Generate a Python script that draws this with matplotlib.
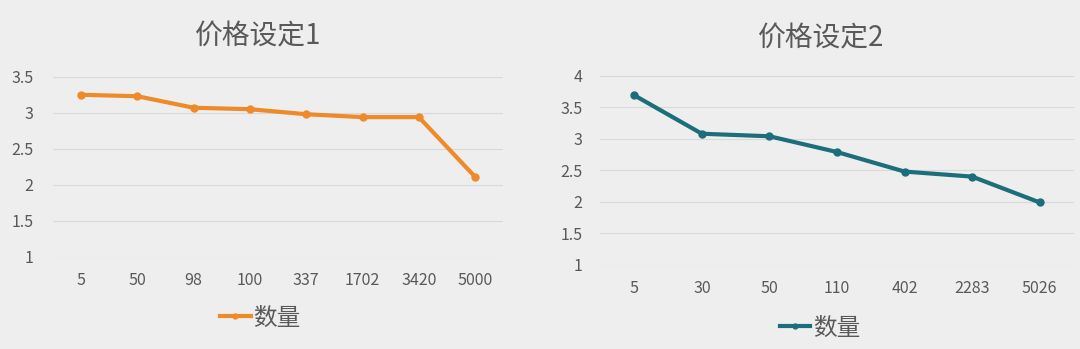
import matplotlib
matplotlib.use("Agg")
import matplotlib.pyplot as plt

plt.rcParams['font.family'] = ['Noto Sans CJK SC', 'DejaVu Sans']

# data
cats1 = ["5", "50", "98", "100", "337", "1702", "3420", "5000"]
vals1 = [3.25, 3.23, 3.07, 3.05, 2.98, 2.94, 2.94, 2.11]
cats2 = ["5", "30", "50", "110", "402", "2283", "5026"]
vals2 = [3.69, 3.08, 3.04, 2.79, 2.48, 2.40, 1.99]
title1 = "价格设定1"
title2 = "价格设定2"
series_name = "数量"

BG = "#EEEEEE"
TXT = "#595959"
GRID = "#D9D9D9"

fig = plt.figure(figsize=(10.8, 3.49), dpi=100, facecolor=BG)


def panel(rect, cats, vals, color, yticks, ylim, title, title_xy, leg_xy, xpad, ypad):
    ax = fig.add_axes(rect, facecolor="none")
    x = range(len(cats))
    ax.plot(x, vals, color=color, lw=3, marker="o", ms=5, label=series_name,
            solid_joinstyle="round")
    ax.set_xlim(-0.5, len(cats) - 0.5)
    ax.set_ylim(*ylim)
    ax.set_xticks(list(x))
    ax.set_xticklabels(cats)
    ax.set_yticks(yticks)
    ax.set_yticklabels([f"{t:g}" for t in yticks])
    ax.grid(axis="y", color=GRID, lw=0.8)
    ax.set_axisbelow(True)
    for s in ax.spines.values():
        s.set_visible(False)
    ax.tick_params(length=0, labelsize=11.5, colors=TXT)
    ax.tick_params(axis="x", pad=xpad)
    ax.tick_params(axis="y", pad=ypad)
    fig.text(title_xy[0], title_xy[1], title, ha="center", va="center",
             fontsize=20, color=TXT)
    leg = ax.legend(loc="center", bbox_to_anchor=leg_xy,
                    bbox_transform=fig.transFigure, frameon=False,
                    fontsize=17, handlelength=1.3, handletextpad=0.1,
                    markerscale=0.7)
    for t in leg.get_texts():
        t.set_color(TXT)
    return ax


panel([0.049, 0.264, 0.417, 0.516], cats1, vals1, "#EE8A2A",
      [1, 1.5, 2, 2.5, 3, 3.5], (1, 3.5), title1, (0.239, 0.895),
      (0.241, 0.089), 11, 14)
panel([0.556, 0.241, 0.438, 0.542], cats2, vals2, "#1C6E7A",
      [1, 1.5, 2, 2.5, 3, 3.5, 4], (1, 4), title2, (0.760, 0.89),
      (0.759, 0.060), 11, 13)

fig.savefig("out.png", dpi=100, facecolor=BG)
